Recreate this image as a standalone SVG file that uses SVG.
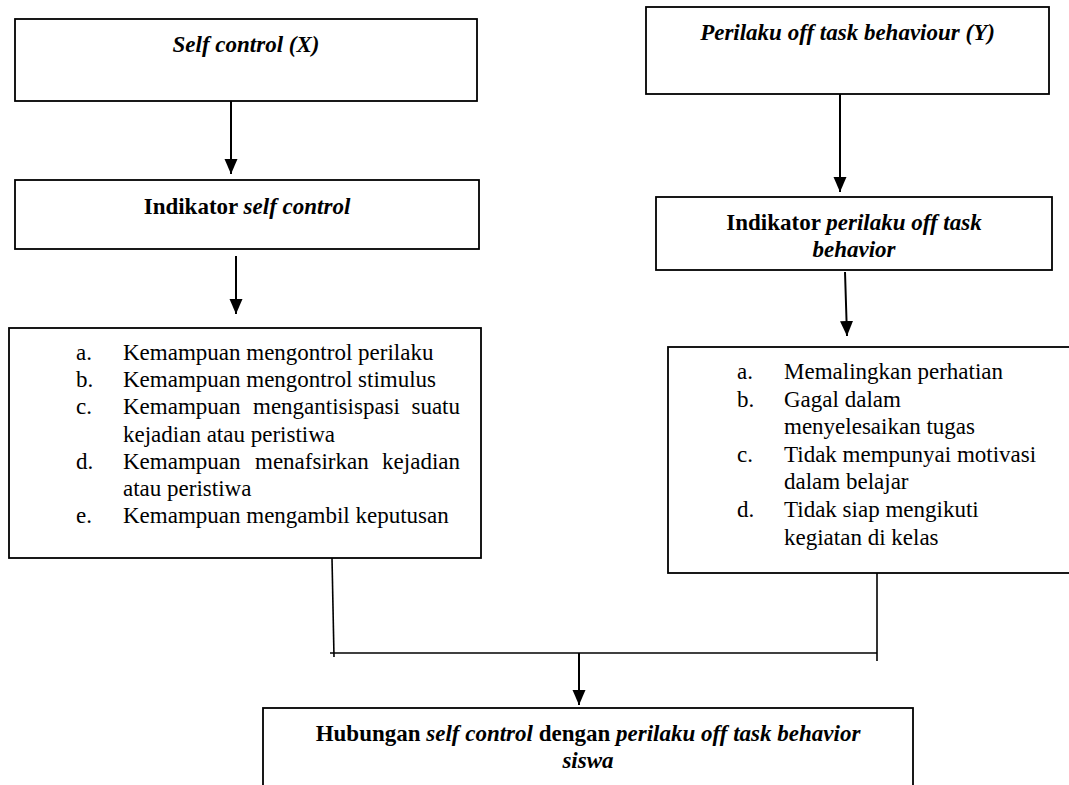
<svg xmlns="http://www.w3.org/2000/svg" width="1069" height="785" viewBox="0 0 1069 785">
<style>
.box{fill:#fff;stroke:#000;stroke-width:1.8}
.t{font-family:"Liberation Serif","Times New Roman",serif;font-size:23px;fill:#000}
.b{font-weight:bold}
.i{font-style:italic}
.ln{stroke:#000;stroke-width:2;fill:none}
.cn{stroke:#000;stroke-width:1.6;fill:none}
</style>
<defs>
<marker id="ah" markerUnits="userSpaceOnUse" markerWidth="16" markerHeight="14" refX="15" refY="6.5" orient="auto">
<path d="M0,0 L15,6.5 L0,13 z" fill="#000"/>
</marker>
</defs>
<rect width="1069" height="785" fill="#fff"/>

<g id="connectors">
<line class="ln" x1="231" y1="98" x2="231" y2="174" marker-end="url(#ah)"/>
<line class="ln" x1="236" y1="256" x2="236" y2="314" marker-end="url(#ah)"/>
<line class="ln" x1="840" y1="89" x2="840" y2="192" marker-end="url(#ah)"/>
<line class="ln" x1="845" y1="272" x2="847" y2="336" marker-end="url(#ah)"/>
<line class="cn" x1="332" y1="558" x2="334" y2="657"/>
<line class="cn" x1="877" y1="573" x2="877" y2="661"/>
<line class="cn" x1="330" y1="653" x2="877" y2="653"/>
<line class="ln" x1="579" y1="653" x2="579" y2="705" marker-end="url(#ah)"/>
</g>

<g id="self-control-x">
<rect class="box" x="15" y="19" width="462" height="82"/>
<text class="t b i" x="246" y="52" text-anchor="middle">Self control (X)</text>
</g>

<g id="indikator-self-control">
<rect class="box" x="15" y="180" width="464" height="69"/>
<text class="t b" x="247" y="214" text-anchor="middle">Indikator <tspan class="i">self control</tspan></text>
</g>

<g id="list-self-control">
<rect class="box" x="9" y="328" width="472" height="230"/>
<text class="t" x="76" y="360">a.</text>
<text class="t" x="123" y="360">Kemampuan mengontrol perilaku</text>
<text class="t" x="76" y="387">b.</text>
<text class="t" x="123" y="387">Kemampuan mengontrol stimulus</text>
<text class="t" x="76" y="414">c.</text>
<text class="t" y="414"><tspan x="123">Kemampuan</tspan><tspan x="253">mengantisispasi</tspan><tspan x="460" text-anchor="end">suatu</tspan></text>
<text class="t" x="123" y="442">kejadian atau peristiwa</text>
<text class="t" x="76" y="469">d.</text>
<text class="t" y="469"><tspan x="123">Kemampuan</tspan><tspan x="255">menafsirkan</tspan><tspan x="460" text-anchor="end">kejadian</tspan></text>
<text class="t" x="123" y="496">atau peristiwa</text>
<text class="t" x="76" y="523">e.</text>
<text class="t" x="123" y="523">Kemampuan mengambil keputusan</text>
</g>

<g id="perilaku-off-task-y">
<rect class="box" x="646" y="7" width="403" height="87"/>
<text class="t b i" x="847.5" y="40" text-anchor="middle">Perilaku off task behaviour (Y)</text>
</g>

<g id="indikator-perilaku">
<rect class="box" x="656" y="197" width="396" height="73"/>
<text class="t b" x="854" y="230" text-anchor="middle">Indikator <tspan class="i">perilaku off task</tspan></text>
<text class="t b i" x="854" y="257" text-anchor="middle">behavior</text>
</g>

<g id="list-perilaku">
<rect class="box" x="668" y="347" width="430" height="226"/>
<text class="t" x="737" y="379">a.</text>
<text class="t" x="784" y="379">Memalingkan perhatian</text>
<text class="t" x="737" y="407">b.</text>
<text class="t" x="784" y="407">Gagal dalam</text>
<text class="t" x="784" y="434">menyelesaikan tugas</text>
<text class="t" x="737" y="462">c.</text>
<text class="t" x="784" y="462">Tidak mempunyai motivasi</text>
<text class="t" x="784" y="489">dalam belajar</text>
<text class="t" x="737" y="517">d.</text>
<text class="t" x="784" y="517">Tidak siap mengikuti</text>
<text class="t" x="784" y="545">kegiatan di kelas</text>
</g>

<g id="hubungan">
<rect class="box" x="263" y="708" width="650" height="100"/>
<text class="t b" x="588" y="741" text-anchor="middle">Hubungan <tspan class="i">self control</tspan> dengan <tspan class="i">perilaku off task behavior</tspan></text>
<text class="t b i" x="588" y="768" text-anchor="middle">siswa</text>
</g>
</svg>
